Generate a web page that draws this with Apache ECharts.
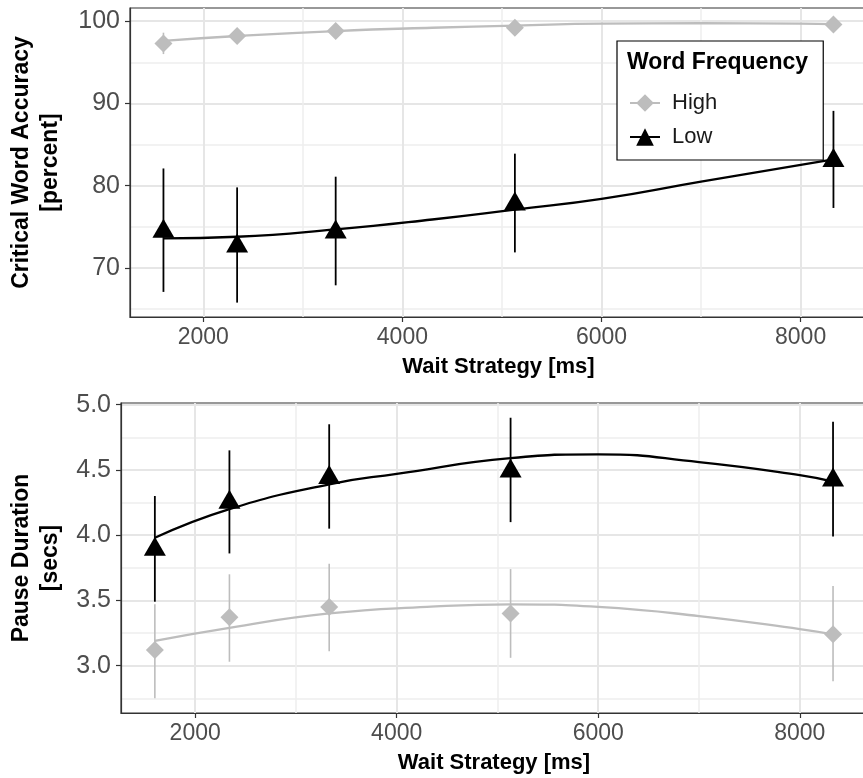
<!DOCTYPE html>
<html>
<head>
<meta charset="utf-8">
<script src="https://cdn.jsdelivr.net/npm/echarts@6/dist/echarts.min.js"></script>
<style>
html,body{margin:0;padding:0;background:#fff;}
#chart{width:863px;height:778px;}
</style>
</head>
<body>
<div id="chart"></div>
<script>
// ---- data ----
const waitMs = [1600, 2340, 3330, 5130, 8330];

const accHigh   = [97.3, 98.2, 98.8, 99.2, 99.6];
const accHighLo = [96.0, 97.4, 98.2, 98.8, 99.3];
const accHighHi = [98.6, 99.0, 99.4, 99.6, 99.9];
const accLow    = [74.6, 72.8, 74.5, 77.9, 83.2];
const accLowLo  = [67.1, 65.8, 67.9, 71.9, 77.3];
const accLowHi  = [82.1, 79.8, 81.1, 83.9, 89.1];

const pauseHigh   = [3.12, 3.37, 3.45, 3.40, 3.24];
const pauseHighLo = [2.75, 3.03, 3.11, 3.06, 2.88];
const pauseHighHi = [3.47, 3.70, 3.78, 3.74, 3.61];
const pauseLow    = [3.90, 4.26, 4.45, 4.50, 4.43];
const pauseLowLo  = [3.49, 3.86, 4.05, 4.10, 3.99];
const pauseLowHi  = [4.30, 4.65, 4.85, 4.90, 4.87];

// fitted curves
const accHighFitX = [1600, 2340, 3330, 4300, 5130, 6000, 7000, 8000, 8330];
const accHighFitY = [97.6, 98.2, 98.8, 99.2, 99.45, 99.7, 99.75, 99.7, 99.65];
const accLowFitX  = [1600, 2340, 3330, 4300, 5130, 6000, 7000, 8330];
const accLowFitY  = [73.6, 73.8, 74.7, 75.9, 77.1, 78.4, 80.5, 83.2];
const pauseLowFitX  = [1600, 2340, 3330, 4000, 5130, 6000, 7000, 8000, 8330];
const pauseLowFitY  = [3.98, 4.20, 4.39, 4.47, 4.59, 4.62, 4.56, 4.46, 4.41];
const pauseHighFitX = [1600, 2340, 3330, 4300, 5130, 6000, 7000, 8000, 8330];
const pauseHighFitY = [3.19, 3.29, 3.40, 3.45, 3.47, 3.45, 3.38, 3.28, 3.24];

// tick labels
const xTicks = [2000, 4000, 6000, 8000];
const accTicks = [70, 80, 90, 100];
const pauseTicks = [3.0, 3.5, 4.0, 4.5, 5.0];

const legendNames = ['High', 'Low'];
const legendTitle = 'Word Frequency';

// ---- styling ----
const FONT = '"Liberation Sans", Arial, sans-serif';
const GREY = '#bdbdbd';
const BLACK = '#000000';

const zip = (xs, ys) => xs.map((x, i) => [x, ys[i]]);
const zip3 = (xs, a, b) => xs.map((x, i) => [x, a[i], b[i]]);

function errorBars(name, xi, data, color, width) {
  return {
    name: name, type: 'custom', xAxisIndex: xi, yAxisIndex: xi, z: 2,
    data: data, encode: {x: 0, y: [1, 2]},
    renderItem: function (params, api) {
      const p1 = api.coord([api.value(0), api.value(1)]);
      const p2 = api.coord([api.value(0), api.value(2)]);
      return {type: 'line', shape: {x1: p1[0], y1: p1[1], x2: p2[0], y2: p2[1]},
              style: {stroke: color, lineWidth: width}};
    }
  };
}
function fitLine(name, xi, data, color, sym, symSize) {
  return {name: name, type: 'line', xAxisIndex: xi, yAxisIndex: xi, data: data,
          smooth: true, symbol: sym, symbolSize: symSize, showSymbol: false, z: 3,
          itemStyle: {color: color}, lineStyle: {color: color, width: 2.3}};
}
function points(name, xi, data, color, sym, size, offset) {
  return {name: name, type: 'scatter', xAxisIndex: xi, yAxisIndex: xi, data: data,
          symbol: sym, symbolSize: size, symbolOffset: offset || [0, 0], z: 4,
          itemStyle: {color: color, opacity: 1}};
}

function xAxis(gi) {
  return {
    type: 'value', gridIndex: gi, min: 1264, max: 8667, splitNumber: 4,
    name: 'Wait Strategy [ms]', nameLocation: 'middle', nameGap: 39,
    nameTextStyle: {fontFamily: FONT, fontSize: 22, fontWeight: 'bold', color: '#000'},
    axisLine: {show: true, onZero: false, lineStyle: {color: '#333', width: 1.2}},
    axisTick: {show: true, length: 5, lineStyle: {color: '#333', width: 1.2}, customValues: xTicks},
    axisLabel: {fontFamily: FONT, fontSize: 23, color: '#4d4d4d', margin: 9,
                customValues: xTicks, formatter: function (v) { return String(v); }},
    splitLine: {show: true, lineStyle: {color: '#e6e6e6', width: 2}},
    minorTick: {show: false, splitNumber: 2},
    minorSplitLine: {show: true, lineStyle: {color: '#eeeeee', width: 1.5}}
  };
}
function yAxis(gi, min, max, split, ticks, name, gap) {
  return {
    type: 'value', gridIndex: gi, min: min, max: max, splitNumber: split,
    name: name, nameLocation: 'middle', nameRotate: 90, nameGap: gap,
    nameTextStyle: {fontFamily: FONT, fontSize: 23, fontWeight: 'bold', color: '#000', lineHeight: 29},
    axisLine: {show: true, lineStyle: {color: '#333', width: 1.2}},
    axisTick: {show: true, length: 5, lineStyle: {color: '#333', width: 1.2}, customValues: ticks},
    axisLabel: {fontFamily: FONT, fontSize: 25, color: '#4d4d4d', margin: 10,
                customValues: ticks,
                formatter: function (v) { return gi === 1 ? Number(v).toFixed(1) : String(v); }},
    splitLine: {show: true, lineStyle: {color: '#e6e6e6', width: 2}},
    minorTick: {show: false, splitNumber: 2},
    minorSplitLine: {show: true, lineStyle: {color: '#eeeeee', width: 1.5}}
  };
}

const chart = echarts.init(document.getElementById('chart'), null, {renderer: 'canvas'});
chart.setOption({
  animation: false,
  backgroundColor: '#ffffff',
  grid: [
    {left: 130, top: 8, width: 737, height: 309, show: true, borderColor: '#333', borderWidth: 1.2,
     backgroundColor: 'transparent', containLabel: false, outerBoundsMode: 'none'},
    {left: 121, top: 403, width: 746, height: 310, show: true, borderColor: '#333', borderWidth: 1.2,
     backgroundColor: 'transparent', containLabel: false, outerBoundsMode: 'none'}
  ],
  title: {
    text: legendTitle, left: 627, top: 51, padding: 0, z: 20,
    textStyle: {fontFamily: FONT, fontSize: 23, fontWeight: 'bold', color: '#000'}
  },
  legend: {
    data: legendNames, orient: 'vertical', left: 617, top: 41,
    padding: [51, 106, 12, 12], itemWidth: 30, itemHeight: 22, itemGap: 12,
    borderColor: '#000', borderWidth: 1.2, backgroundColor: '#ffffff', z: 10,
    textStyle: {fontFamily: FONT, fontSize: 22, color: '#1a1a1a', padding: [0, 0, 0, 7]},
    selectedMode: false
  },
  xAxis: [xAxis(0), xAxis(1)],
  yAxis: [
    yAxis(0, 64.05, 101.6, 4, accTicks, 'Critical Word Accuracy\n[percent]', 65),
    yAxis(1, 2.637, 5.013, 5, pauseTicks, 'Pause Duration\n[secs]', 56)
  ],
  series: [
    fitLine('High', 0, zip(accHighFitX, accHighFitY), GREY, 'diamond', 18),
    fitLine('Low', 0, zip(accLowFitX, accLowFitY), BLACK, 'triangle', 18),
    errorBars('High err', 0, zip3(waitMs, accHighLo, accHighHi), GREY, 1.6),
    errorBars('Low err', 0, zip3(waitMs, accLowLo, accLowHi), BLACK, 1.8),
    points('High pts', 0, zip(waitMs, accHigh), GREY, 'diamond', 18),
    points('Low pts', 0, zip(waitMs, accLow), BLACK, 'triangle', [22, 19], [0, -2]),

    fitLine('High fit2', 1, zip(pauseHighFitX, pauseHighFitY), GREY, 'diamond', 18),
    fitLine('Low fit2', 1, zip(pauseLowFitX, pauseLowFitY), BLACK, 'triangle', 18),
    errorBars('High err2', 1, zip3(waitMs, pauseHighLo, pauseHighHi), GREY, 1.6),
    errorBars('Low err2', 1, zip3(waitMs, pauseLowLo, pauseLowHi), BLACK, 1.8),
    points('High pts2', 1, zip(waitMs, pauseHigh), GREY, 'diamond', 18),
    points('Low pts2', 1, zip(waitMs, pauseLow), BLACK, 'triangle', [22, 19], [0, -2])
  ]
});
</script>
</body>
</html>
